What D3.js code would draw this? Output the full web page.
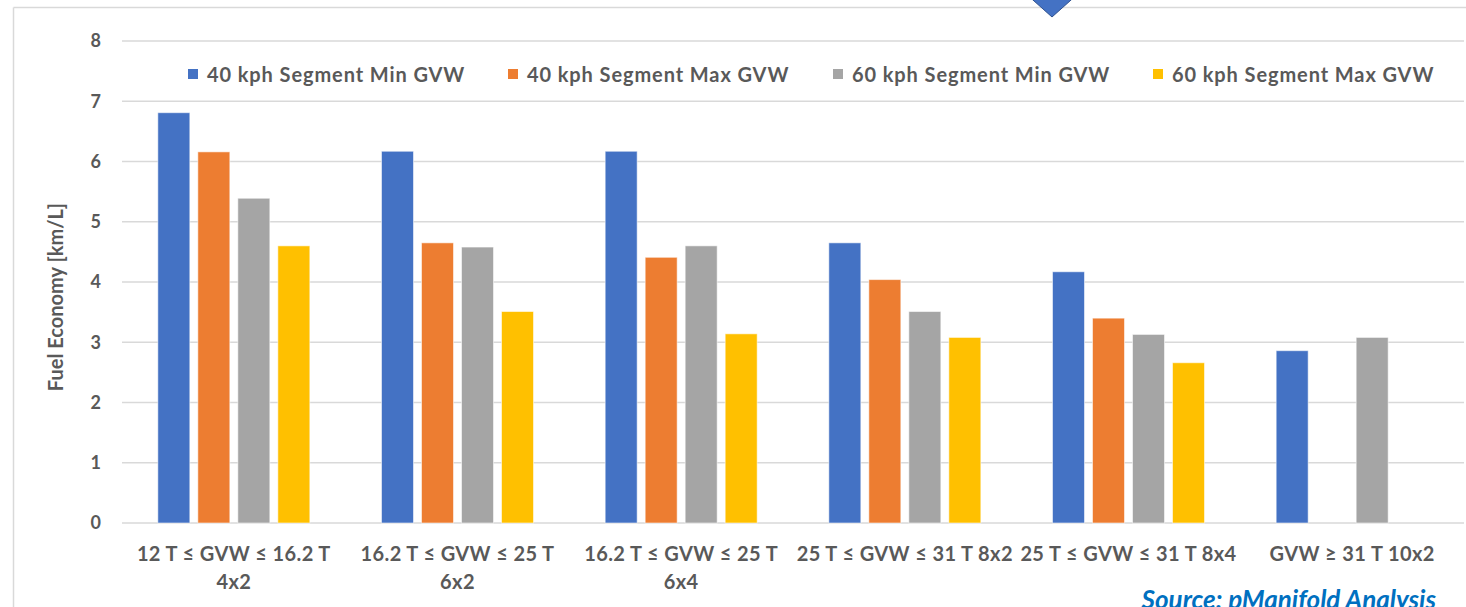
<!DOCTYPE html>
<html>
<head>
<meta charset="utf-8">
<script src="https://cdn.jsdelivr.net/npm/d3@7"></script>
<style>
  html, body { margin: 0; padding: 0; background: #ffffff; }
  svg { display: block; }
  text { font-family: Lato, "Open Sans", "Liberation Sans", sans-serif; }
</style>
</head>
<body>
<svg id="chart" width="1466" height="607"></svg>
<script>
// ---- data ----
const categories = [
  ["12 T \u2264 GVW \u2264 16.2 T", "4x2"],
  ["16.2 T \u2264 GVW \u2264 25 T", "6x2"],
  ["16.2 T \u2264 GVW \u2264 25 T", "6x4"],
  ["25 T \u2264 GVW \u2264 31 T 8x2"],
  ["25 T \u2264 GVW \u2264 31 T 8x4"],
  ["GVW \u2265 31 T 10x2"]
];
const seriesNames = [
  "40 kph Segment Min GVW",
  "40 kph Segment Max GVW",
  "60 kph Segment Min GVW",
  "60 kph Segment Max GVW"
];
const min40 = [6.81, 6.17, 6.17, 4.65, 4.17, 2.86];
const max40 = [6.16, 4.65, 4.41, 4.04, 3.40, null];
const min60 = [5.39, 4.58, 4.60, 3.51, 3.13, 3.08];
const max60 = [4.60, 3.51, 3.14, 3.08, 2.66, null];
const yTicks = [0, 1, 2, 3, 4, 5, 6, 7, 8];
const yTitle = "Fuel Economy [km/L]";
const sourceText = "Source: pManifold Analysis";

const seriesValues = [min40, max40, min60, max60];
const colors = ["#4472C4", "#ED7D31", "#A5A5A5", "#FFC000"];

// ---- layout ----
const svg = d3.select("#chart");
const plotL = 122, plotR = 1464, plotT = 41, plotB = 523;
const textColor = "#595959";

// frame
svg.append("line").attr("x1", 13.5).attr("x2", 1466).attr("y1", 7.5).attr("y2", 7.5)
  .attr("stroke", "#D9D9D9").attr("stroke-width", 1.5);
svg.append("line").attr("x1", 13.5).attr("x2", 13.5).attr("y1", 7.5).attr("y2", 607)
  .attr("stroke", "#D9D9D9").attr("stroke-width", 1.5);

const keys = categories.map((c, i) => "c" + i);
const x0 = d3.scaleBand().domain(keys).range([plotL, plotR]).paddingInner(0.2846).paddingOuter(0.1423);
const x1 = d3.scaleBand().domain(d3.range(seriesNames.length)).range([0, x0.bandwidth()])
  .paddingInner(0.2).paddingOuter(0.1);
const y = d3.scaleLinear().domain([0, 8]).range([plotB, plotT]);

// gridlines
svg.append("g").selectAll("line").data(yTicks).join("line")
  .attr("x1", plotL).attr("x2", plotR)
  .attr("y1", d => y(d)).attr("y2", d => y(d))
  .attr("stroke", "#D9D9D9").attr("stroke-width", 1.5);

// y axis labels via axis
const yAxis = svg.append("g").attr("transform", `translate(${plotL},0)`)
  .call(d3.axisLeft(y).tickValues(yTicks).tickSize(0).tickPadding(21).tickFormat(d3.format("d")));
yAxis.select(".domain").remove();
yAxis.selectAll("text").attr("fill", textColor).attr("font-size", 18).attr("font-weight", 700)
  .style("font-family", "Lato, sans-serif");

// y title
svg.append("text").attr("transform", `translate(63,297) rotate(-90)`)
  .attr("text-anchor", "middle").attr("fill", textColor).attr("font-size", 20).attr("font-weight", 700)
  .text(yTitle);

// bars
const groups = svg.append("g").selectAll("g").data(keys).join("g")
  .attr("transform", d => `translate(${x0(d)},0)`);
groups.selectAll("rect")
  .data((k, ci) => seriesValues.map((s, si) => ({ si, v: s[ci] })).filter(d => d.v != null))
  .join("rect")
  .attr("x", d => x1(d.si))
  .attr("width", x1.bandwidth())
  .attr("y", d => y(d.v))
  .attr("height", d => y(0) - y(d.v))
  .attr("fill", d => colors[d.si])
  .attr("stroke", "#ffffff").attr("stroke-opacity", 0.55).attr("stroke-width", 1);

// x labels
const xl = svg.append("g").selectAll("text").data(keys).join("text")
  .attr("text-anchor", "middle")
  .attr("x", d => x0(d) + x0.bandwidth() / 2)
  .attr("y", 561)
  .attr("fill", textColor).attr("font-size", 20).attr("font-weight", 700)
  .attr("letter-spacing", 0.4);
xl.selectAll("tspan").data((d, i) => categories[i]).join("tspan")
  .attr("x", function () { return d3.select(this.parentNode).attr("x"); })
  .attr("dy", (d, i) => i === 0 ? 0 : 28)
  .text(d => d);

// legend
const legendX = [188, 508, 833, 1153];
const lg = svg.append("g").selectAll("g").data(seriesNames).join("g")
  .attr("transform", (d, i) => `translate(${legendX[i]},69)`);
lg.append("rect").attr("width", 10).attr("height", 10).attr("fill", (d, i) => colors[i]);
lg.append("text").attr("x", 19).attr("y", 13).attr("fill", textColor)
  .attr("font-size", 20).attr("font-weight", 700).attr("letter-spacing", 0.9).text(d => d);

// source
svg.append("text").attr("x", 1436).attr("y", 609).attr("text-anchor", "end")
  .attr("fill", "#0070C0").attr("font-size", 26).attr("font-weight", 700).attr("font-style", "italic")
  .text(sourceText);

// decorative triangle at top
svg.append("polygon")
  .attr("points", "1024,-8 1080,-8 1052,17")
  .attr("fill", "#4472C4").attr("stroke", "#2F528F").attr("stroke-width", 1);
</script>
</body>
</html>
